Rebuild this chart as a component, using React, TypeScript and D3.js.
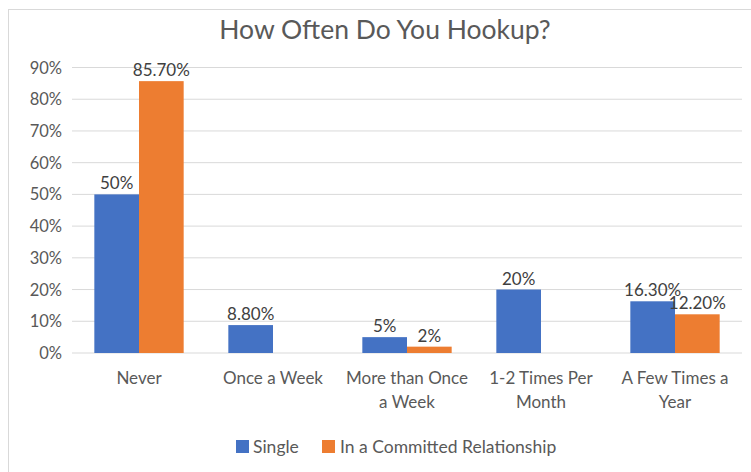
import React from "react";
import * as d3 from "d3";

const categories = [["Never"], ["Once a Week"], ["More than Once", "a Week"], ["1-2 Times Per", "Month"], ["A Few Times a", "Year"]];
const seriesNames = ["Single", "In a Committed Relationship"];
const single = [0.5, 0.088, 0.05, 0.2, 0.163];
const committed = [0.857, null, 0.02, null, 0.122];
const singleLabels = ["50%", "8.80%", "5%", "20%", "16.30%"];
const committedLabels = ["85.70%", "", "2%", "", "12.20%"];
const yTicks = [0, 0.1, 0.2, 0.3, 0.4, 0.5, 0.6, 0.7, 0.8, 0.9];
const colors = ["#4472C4", "#ED7D31"];

const W = 751, H = 472;
const FONT = "Lato, 'Open Sans', sans-serif";

export default function App() {
  const x = d3.scaleBand<number>().domain(d3.range(categories.length)).range([72, 742]).paddingInner(0).paddingOuter(0);
  const y = d3.scaleLinear().domain([0, 0.9]).range([353, 67.5]);
  const bw = x.bandwidth() / 3;
  const series = [single, committed];
  const labels = [singleLabels, committedLabels];
  return (
    <svg width={W} height={H} style={{ position: "absolute", left: 0, top: 0, background: "#fff" }} fontFamily={FONT}>
      <rect x={8.5} y={9.5} width={760} height={480} fill="#fff" stroke="#d9d9d9" />
      <text x={385} y={39} textAnchor="middle" fontSize={26.5} fill="#595959">How Often Do You Hookup?</text>
      {yTicks.map((t) => (
        <g key={t}>
          <line x1={72} x2={742} y1={y(t)} y2={y(t)} stroke="#d9d9d9" strokeWidth={1} />
          <text x={62} y={y(t) + 6} textAnchor="end" fontSize={16.5} fill="#595959">{d3.format(".0%")(t)}</text>
        </g>
      ))}
      {series.map((s, si) =>
        s.map((v, i) => {
          if (v == null) return null;
          const bx = (x(i) as number) + bw / 2 + si * bw;
          return (
            <g key={si + "-" + i}>
              <rect x={bx} y={y(v)} width={bw} height={y(0) - y(v)} fill={colors[si]} />
              <text x={bx + bw / 2} y={y(v) - 5} textAnchor="middle" fontSize={17} fill="#404040">{labels[si][i]}</text>
            </g>
          );
        })
      )}
      {categories.map((c, i) => (
        <text key={i} x={(x(i) as number) + x.bandwidth() / 2} y={384} textAnchor="middle" fontSize={17} fill="#595959">
          {c.map((line, li) => (
            <tspan key={li} x={(x(i) as number) + x.bandwidth() / 2} dy={li === 0 ? 0 : 24}>{line}</tspan>
          ))}
        </text>
      ))}
      <rect x={236} y={440} width={13} height={13} fill={colors[0]} />
      <text x={253} y={453} fontSize={17.5} fill="#595959">{seriesNames[0]}</text>
      <rect x={322} y={440} width={13} height={13} fill={colors[1]} />
      <text x={340} y={453} fontSize={17.5} fill="#595959">{seriesNames[1]}</text>
    </svg>
  );
}
